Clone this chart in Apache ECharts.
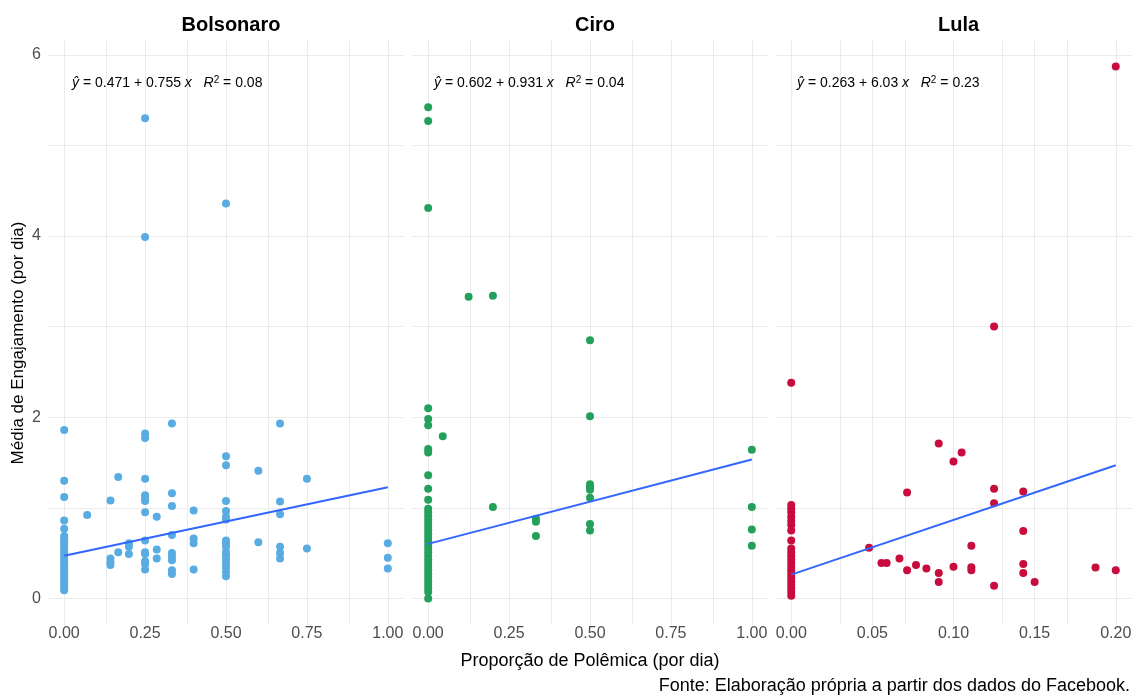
<!DOCTYPE html>
<html><head><meta charset="utf-8">
<script src="https://cdn.jsdelivr.net/npm/echarts@6/dist/echarts.min.js"></script>
<style>html,body{margin:0;padding:0;background:#fff}#chart{width:1137px;height:695px}</style>
</head><body><div id="chart"></div>
<script>
// ---- data ----
const panelNames = ['Bolsonaro', 'Ciro', 'Lula'];
const panelColors = ['#58ACE2', '#23A15B', '#C90C3E'];

const bolsonaroPoints = [
  [0,1.86],[0,1.30],[0,1.12],[0,0.86],[0,0.77],[0,0.69],[0,0.66],[0,0.63],[0,0.60],[0,0.57],[0,0.54],[0,0.51],
  [0,0.48],[0,0.45],[0,0.42],[0,0.39],[0,0.36],[0,0.33],[0,0.30],[0,0.27],[0,0.24],[0,0.21],[0,0.18],[0,0.15],
  [0,0.12],[0,0.09],
  [0.071,0.92],
  [0.143,1.08],[0.143,0.44],[0.143,0.40],[0.143,0.37],
  [0.167,1.34],[0.167,0.51],
  [0.2,0.61],[0.2,0.57],[0.2,0.49],
  [0.25,5.30],[0.25,3.99],[0.25,1.82],[0.25,1.77],[0.25,1.32],[0.25,1.14],[0.25,1.10],[0.25,1.075],[0.25,0.95],
  [0.25,0.64],[0.25,0.51],[0.25,0.49],[0.25,0.41],[0.25,0.38],[0.25,0.32],
  [0.286,0.90],[0.286,0.54],[0.286,0.44],
  [0.333,1.93],[0.333,1.16],[0.333,1.02],[0.333,0.70],[0.333,0.50],[0.333,0.46],[0.333,0.42],[0.333,0.31],[0.333,0.27],
  [0.4,0.97],[0.4,0.66],[0.4,0.61],[0.4,0.32],
  [0.5,4.36],[0.5,1.57],[0.5,1.47],[0.5,1.075],[0.5,0.965],[0.5,0.90],[0.5,0.87],[0.5,0.64],[0.5,0.605],[0.5,0.57],
  [0.5,0.51],[0.5,0.48],[0.5,0.43],[0.5,0.385],[0.5,0.34],[0.5,0.29],[0.5,0.245],
  [0.6,1.41],[0.6,0.62],
  [0.667,1.93],[0.667,1.07],[0.667,0.93],[0.667,0.57],[0.667,0.50],[0.667,0.44],
  [0.75,1.32],[0.75,0.55],
  [1,0.61],[1,0.45],[1,0.33]
];

const ciroPoints = [
  [0,5.42],[0,5.27],[0,4.31],[0,2.10],[0,1.98],[0,1.91],[0,1.65],[0,1.61],[0,1.36],[0,1.21],[0,1.09],
  [0,0.99],[0,0.95],[0,0.91],[0,0.87],[0,0.83],[0,0.79],[0,0.75],[0,0.71],[0,0.67],[0,0.63],[0,0.59],[0,0.55],
  [0,0.51],[0,0.47],[0,0.43],[0,0.39],[0,0.35],[0,0.31],[0,0.27],[0,0.23],[0,0.19],[0,0.15],[0,0.11],[0,0.07],[0,0.0],
  [0.045,1.79],
  [0.125,3.33],
  [0.2,3.34],[0.2,1.01],
  [0.333,0.88],[0.333,0.845],[0.333,0.69],
  [0.5,2.85],[0.5,2.01],[0.5,1.26],[0.5,1.23],[0.5,1.20],[0.5,1.11],[0.5,0.82],[0.5,0.75],
  [1,1.64],[1,1.01],[1,0.76],[1,0.58]
];

const lulaPoints = [
  [0,2.38],[0,1.03],[0,0.99],[0,0.95],[0,0.90],[0,0.855],[0,0.81],[0,0.75],[0,0.64],[0,0.55],[0,0.51],[0,0.47],
  [0,0.43],[0,0.39],[0,0.35],[0,0.31],[0,0.27],[0,0.23],[0,0.19],[0,0.15],[0,0.11],[0,0.07],[0,0.03],
  [0.048,0.56],
  [0.0556,0.39],[0.0588,0.39],
  [0.0667,0.44],
  [0.0714,1.17],[0.0714,0.31],
  [0.0769,0.37],
  [0.0833,0.33],
  [0.0909,1.71],[0.0909,0.28],[0.0909,0.18],
  [0.1,1.51],[0.1,0.35],
  [0.105,1.61],
  [0.111,0.58],[0.111,0.345],[0.111,0.31],
  [0.125,3.0],[0.125,1.21],[0.125,1.05],[0.125,0.14],
  [0.143,1.18],[0.143,0.745],[0.143,0.38],[0.143,0.28],
  [0.15,0.18],
  [0.1875,0.34],
  [0.2,5.87],[0.2,0.31]
];

const intercepts = [0.471, 0.602, 0.263];
const slopes = [0.755, 0.931, 6.03];
const r2Labels = ['0.08', '0.04', '0.23'];

const xTickLabels = [[0, 0.25, 0.5, 0.75, 1], [0, 0.25, 0.5, 0.75, 1], [0, 0.05, 0.1, 0.15, 0.2]];
const xGridValues = [
  [0, 0.125, 0.25, 0.375, 0.5, 0.625, 0.75, 0.875, 1],
  [0, 0.125, 0.25, 0.375, 0.5, 0.625, 0.75, 0.875, 1],
  [0, 0.025, 0.05, 0.075, 0.1, 0.125, 0.15, 0.175, 0.2]
];
const yTickLabels = [0, 2, 4, 6];
const yGridValues = [0, 1, 2, 3, 4, 5, 6];

// ---- layout ----
const allPoints = [bolsonaroPoints, ciroPoints, lulaPoints];
const FONT = '"Liberation Sans", Arial, Helvetica, sans-serif';
const gridLefts = [48, 412, 775];
const gridWidths = [356, 356, 357];
const gridTop = 40, gridHeight = 585;
const xRanges = [[-0.05, 1.05], [-0.05, 1.05], [-0.01, 0.21]];
const yRange = [-0.2935, 6.1635];

const chart = echarts.init(document.getElementById('chart'), null, {renderer: 'canvas'});

const grid = [], xAxis = [], yAxis = [], series = [], title = [];
for (let i = 0; i < 3; i++) {
  grid.push({left: gridLefts[i], width: gridWidths[i], top: gridTop, height: gridHeight, containLabel: false});
  xAxis.push({
    type: 'value', gridIndex: i, min: xRanges[i][0], max: xRanges[i][1],
    axisLine: {show: false}, axisTick: {show: false}, splitLine: {show: false},
    axisLabel: {
      customValues: xTickLabels[i], color: '#4d4d4d', fontSize: 16, fontFamily: FONT, margin: 1,
      formatter: v => v.toFixed(2)
    }
  });
  yAxis.push({
    type: 'value', gridIndex: i, min: yRange[0], max: yRange[1],
    axisLine: {show: false}, axisTick: {show: false}, splitLine: {show: false},
    axisLabel: i === 0 ? {
      customValues: yTickLabels, color: '#4d4d4d', fontSize: 16, fontFamily: FONT, margin: 7,
      formatter: v => String(v)
    } : {show: false}
  });
  const pts = allPoints[i];
  const xs = pts.map(p => p[0]);
  const x0 = Math.min(...xs), x1 = Math.max(...xs);
  series.push({
    type: 'scatter', xAxisIndex: i, yAxisIndex: i, data: pts, symbolSize: 8, z: 2,
    itemStyle: {color: panelColors[i], opacity: 1}, silent: true
  });
  series.push({
    type: 'line', xAxisIndex: i, yAxisIndex: i, z: 3, silent: true,
    data: [[x0, intercepts[i] + slopes[i] * x0], [x1, intercepts[i] + slopes[i] * x1]],
    showSymbol: false, symbol: 'none',
    lineStyle: {color: '#3366FF', width: 2},
    markLine: {
      silent: true, symbol: ['none', 'none'], z: 1, animation: false,
      label: {show: false},
      lineStyle: {color: '#ebebeb', width: 1, type: 'solid'},
      emphasis: {disabled: true},
      data: xGridValues[i].map(v => ({xAxis: v})).concat(yGridValues.map(v => ({yAxis: v})))
    }
  });
  // strip title
  title.push({
    text: panelNames[i], left: gridLefts[i] + gridWidths[i] / 2, top: 10, textAlign: 'center',
    textStyle: {fontFamily: FONT, fontSize: 20, fontWeight: 'bold', color: '#000'}
  });
  // equation
  title.push({
    text: '{i|ŷ} = ' + intercepts[i] + ' + ' + slopes[i] + ' {i|x}   {i|R}{sup|2} = ' + r2Labels[i],
    left: gridLefts[i] + (i === 0 ? 19 : 17), top: 70,
    textStyle: {
      fontFamily: FONT, fontSize: 14, fontWeight: 'normal', color: '#000', lineHeight: 16,
      rich: {
        i: {fontStyle: 'italic', fontWeight: 'normal', fontFamily: FONT, fontSize: 14, lineHeight: 16},
        sup: {fontFamily: FONT, fontWeight: 'normal', fontSize: 10, lineHeight: 16, verticalAlign: 'top', padding: [0, 0, 6, 0]}
      }
    }
  });
}

chart.setOption({
  animation: false,
  backgroundColor: '#fff',
  title: title,
  grid: grid, xAxis: xAxis, yAxis: yAxis, series: series,
  graphic: [
    {type: 'text', x: 590, y: 661,
      style: {text: 'Proporção de Polêmica (por dia)', font: '18px ' + FONT, fill: '#000', align: 'center', verticalAlign: 'middle'}},
    {type: 'text', x: 1130, y: 686,
      style: {text: 'Fonte: Elaboração própria a partir dos dados do Facebook.', font: '18px ' + FONT, fill: '#000', align: 'right', verticalAlign: 'middle'}},
    {type: 'text', x: 18, y: 343, rotation: Math.PI / 2,
      style: {text: 'Média de Engajamento (por dia)', font: '17px ' + FONT, fill: '#000', align: 'center', verticalAlign: 'middle'}}
  ]
});
</script></body></html>
